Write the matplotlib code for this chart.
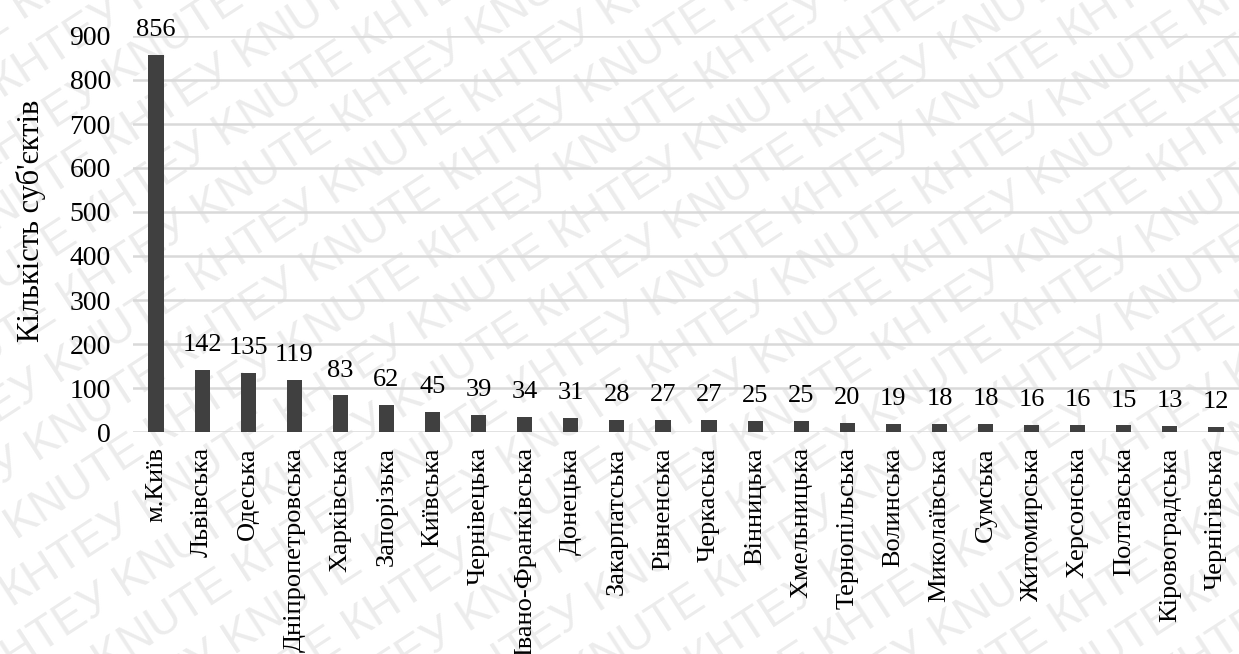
import numpy as np
import matplotlib.pyplot as plt

plt.rcParams['font.family'] = ['Liberation Serif', 'DejaVu Serif']

regions = ['м.Київ', 'Львівська', 'Одеська', 'Дніпропетровська', 'Харківська',
           'Запорізька', 'Київська', 'Чернівецька', 'Івано-Франківська', 'Донецька',
           'Закарпатська', 'Рівненська', 'Черкаська', 'Вінницька', 'Хмельницька',
           'Тернопільська', 'Волинська', 'Миколаївська', 'Сумська', 'Житомирська',
           'Херсонська', 'Полтавська', 'Кіровоградська', 'Чернігівська']
counts = [856, 142, 135, 119, 83, 62, 45, 39, 34, 31, 28, 27, 27, 25, 25,
          20, 19, 18, 18, 16, 16, 15, 13, 12]
yticks = [0, 100, 200, 300, 400, 500, 600, 700, 800, 900]

W, H = 1239, 654
fig = plt.figure(figsize=(W / 100, H / 100), dpi=100)

# watermark layer behind the chart, in pixel coordinates
bg = fig.add_axes([0, 0, 1, 1], zorder=-1)
bg.set_xlim(0, W)
bg.set_ylim(0, H)
bg.axis('off')
ang = 33
theta = np.deg2rad(ang)
u = np.array([np.cos(theta), np.sin(theta)])
nrm = np.array([-np.sin(theta), np.cos(theta)])
wm = 'KNUTE КНТЕУ ' * 10
for k in range(-14, 15):
    p = np.array([W / 2, H / 2]) + k * 54 * nrm - 950 * u + (k % 3) * 60 * u
    bg.text(p[0], p[1], wm, rotation=ang, rotation_mode='anchor',
            fontsize=33, color='#ececec', family='Liberation Sans',
            ha='left', va='center', clip_on=True)

ax = fig.add_axes([133 / W, 222 / H, (W - 133) / W, 396 / H])
ax.patch.set_alpha(0)

x = np.arange(len(regions))
ax.bar(x, counts, width=0.33, color='#404040', zorder=3)

for xi, v in zip(x, counts):
    ax.annotate(str(v), (xi, v), xytext=(0, 10), textcoords='offset points',
                ha='center', va='bottom', fontsize=19, clip_on=False)

ax.set_xlim(-0.5, len(regions) - 0.5)
ax.set_ylim(0, 900)
ax.set_yticks(yticks)
ax.set_xticks(x)
ax.set_xticklabels(regions, rotation=90, fontsize=19)
ax.tick_params(axis='y', labelsize=20, length=0, pad=16)
ax.tick_params(axis='x', length=0, pad=11)
ax.grid(axis='y', color='#d9d9d9', linewidth=1.8, zorder=0)
for s in ax.spines.values():
    s.set_visible(False)
ax.set_ylabel("Кількість суб'єктів", fontsize=22)
ax.yaxis.set_label_coords(-0.079, 0.533)

fig.savefig('out.png', dpi=100)
